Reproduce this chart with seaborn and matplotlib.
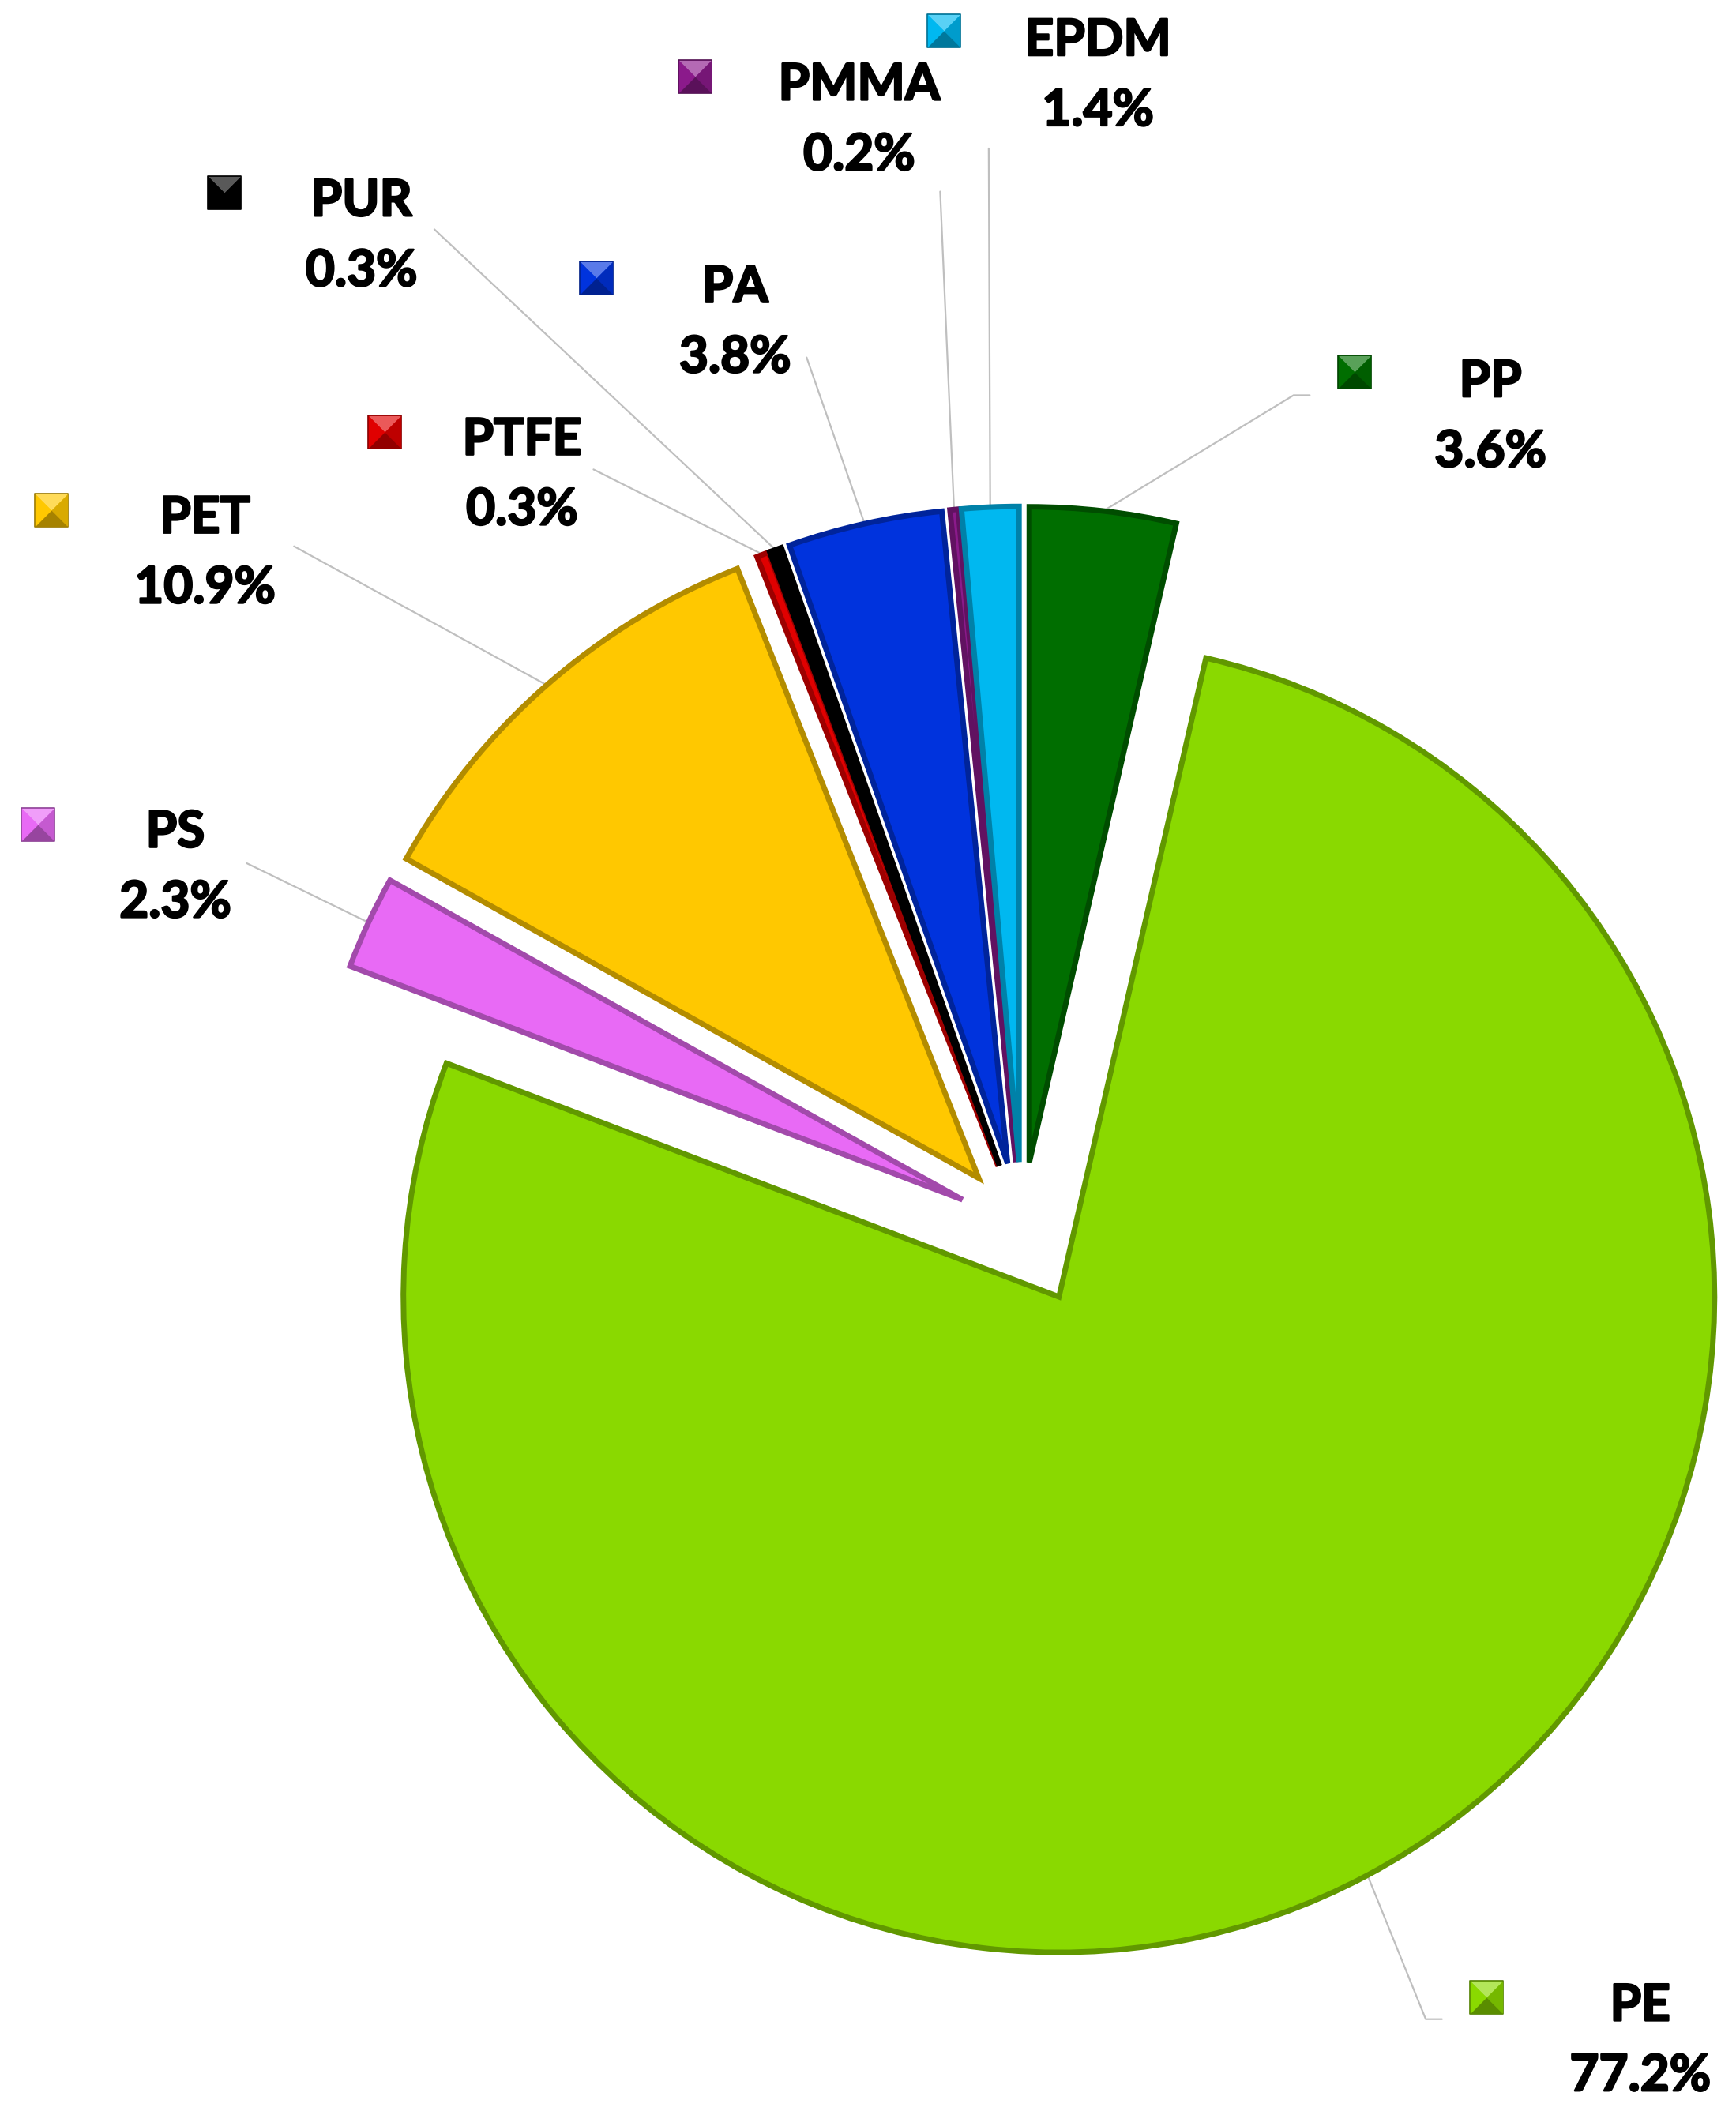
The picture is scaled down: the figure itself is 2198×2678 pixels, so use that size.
import numpy as np
import matplotlib.pyplot as plt
import matplotlib.colors as mcolors
import matplotlib.patheffects as pe
import seaborn as sns

sns.set_theme(style="white")
plt.rcParams["font.family"] = ["Lato", "DejaVu Sans"]

# ------------------------------------------------------------
# data (clockwise from 12 o'clock)
# ------------------------------------------------------------
polymers = ["PP", "PE", "PS", "PET", "PTFE", "PUR", "PA", "PMMA", "EPDM"]
shares = [3.6, 77.2, 2.3, 10.9, 0.3, 0.3, 3.8, 0.2, 1.4]
colors = ["#006e00", "#8ad900", "#e86af5", "#ffc800", "#e00000",
          "#000000", "#0033dd", "#8b1a8b", "#00b8f0"]
explode = [0.1, 0.12, 0.1, 0.1, 0.1, 0.1, 0.1, 0.1, 0.1]

# ------------------------------------------------------------
# layout, canvas units 1287 x 1568 measured from the top
# ------------------------------------------------------------
W, H = 1287, 1568
R = 486
label_x = [1105, 1216, 130, 152, 387, 268, 545, 637, 814]
label_y = [280, 1484, 614, 381, 323, 146, 210, 60, 27]
marker_x = [1004, 1102, 28, 38, 285, 166, 442, 515, 700]
marker_y = [276, 1481, 611, 378, 320, 143, 206, 57, 23]
leader_x = [959, 1057, 183, 218, 440, 322, 598, 697, 733]
leader_y = [293, 1497, 640, 405, 348, 170, 265, 142, 110]
elbow_x = [971, 1069, None, None, None, None, None, None, None]


def shade(c, f):
    rgb = np.array(mcolors.to_rgb(c))
    if f < 1:
        return rgb * f
    return rgb + (1 - rgb) * (f - 1)


fig = plt.figure(figsize=(21.98, 26.78), dpi=100)
ax = fig.add_axes([0, 0, 1, 1])

# pie() offsets exploded wedges in data units, so scale by the radius
wedges, _ = ax.pie(shares, explode=[e * R for e in explode], colors=colors,
                   startangle=90, counterclock=False, radius=R,
                   center=(757.6, H - 910),
                   wedgeprops=dict(linewidth=5, joinstyle="miter"))
for w, c in zip(wedges, colors):
    w.set_edgecolor(shade(c, 0.7))
    w.set_zorder(2)

# leader lines from the middle of each outer arc to its label
for i, w in enumerate(wedges):
    t = np.deg2rad((w.theta1 + w.theta2) / 2)
    cx, cy = w.center
    xs = [cx + w.r * np.cos(t), leader_x[i]]
    ys = [cy + w.r * np.sin(t), H - leader_y[i]]
    if elbow_x[i] is not None:
        xs.append(elbow_x[i])
        ys.append(H - leader_y[i])
    ax.plot(xs, ys, color="#bfbfbf", lw=1.6, zorder=1)

# bevelled square keys: four triangular faces
faces = {
    "top": ([(-1, 1), (1, 1), (0, 0)], 1.35),
    "left": ([(-1, -1), (-1, 1), (0, 0)], 1.0),
    "right": ([(1, -1), (1, 1), (0, 0)], 0.85),
    "bottom": ([(-1, -1), (1, -1), (0, 0)], 0.65),
}
bold = [pe.withStroke(linewidth=1.8, foreground="black")]
for i, name in enumerate(polymers):
    mx, my = marker_x[i], H - marker_y[i]
    ax.scatter(mx, my, marker="s", s=900, color=colors[i],
               edgecolors=[shade(colors[i], 0.6)], linewidths=1.2, zorder=3)
    for verts, f in faces.values():
        ax.scatter(mx, my, marker=verts, s=880, color=[shade(colors[i], f)],
                   linewidths=0, zorder=4)
    ax.text(label_x[i], H - (label_y[i] + 14), name, ha="center",
            va="baseline", fontsize=46, fontweight="bold", color="black",
            path_effects=bold)
    ax.text(label_x[i], H - (label_y[i] + 66), f"{shares[i]:.1f}%",
            ha="center", va="baseline", fontsize=46, fontweight="bold",
            color="black", path_effects=bold)

ax.set_xlim(0, W)
ax.set_ylim(0, H)
ax.set_aspect("equal")
ax.axis("off")

fig.savefig("out.png", dpi=100, facecolor="white")
